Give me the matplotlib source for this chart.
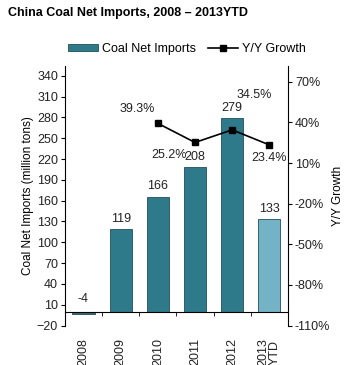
import matplotlib
matplotlib.use("Agg")
import matplotlib.pyplot as plt
from matplotlib.lines import Line2D
from matplotlib.patches import Patch

plt.rcParams.update({"font.family": "Liberation Sans", "font.size": 9})

years = ["2008", "2009", "2010", "2011", "2012", "2013\nYTD"]
imports = [-4, 119, 166, 208, 279, 133]
growth_idx = [2, 3, 4, 5]
growth = [39.3, 25.2, 34.5, 23.4]
growth_labels = ["39.3%", "25.2%", "34.5%", "23.4%"]

DARK = "#2F7A8A"
LIGHT = "#74B3C6"
colors = ["#3A6F78"] + [DARK] * 4 + [LIGHT]

fig = plt.figure(figsize=(3.49, 3.65), dpi=100)
ax = fig.add_axes([0.186, 0.108, 0.639, 0.711])
x = list(range(len(years)))
ax.bar(x, imports, width=0.6, color=colors, edgecolor="#1F4F5A", linewidth=0.6, zorder=2)
ax.set_xlim(-0.5, 5.5)
ax.set_ylim(-20, 354)
ax.set_yticks(range(-20, 341, 30))
ax.tick_params(axis="y", length=3, labelsize=9, pad=2, labelcolor="#222222")
ax.set_ylabel("Coal Net Imports (million tons)", fontsize=8.5, labelpad=2)

ax.spines["top"].set_visible(False)
ax.spines["right"].set_visible(False)
ax.spines["bottom"].set_position(("data", 0))
ax.spines["bottom"].set_zorder(3)
ax.set_xticks(x)
ax.set_xticklabels(years, rotation=90, va="top", linespacing=0.95)
ax.tick_params(axis="x", which="major", length=0, pad=19, labelsize=9, labelcolor="#222222")
ax.set_xticks([i + 0.5 for i in range(5)], minor=True)
ax.tick_params(axis="x", which="minor", length=3, direction="out")

for i, v in zip(x, imports):
    y = v + 6 if v > 0 else 10
    ax.text(i, y, str(v), ha="center", va="bottom", fontsize=9, color="#222222")

ax2 = ax.twinx()
ax2.set_ylim(-110, 81.6)
ax2.set_yticks(range(-110, 71, 30))
ax2.set_yticklabels([f"{t}%" for t in range(-110, 71, 30)])
ax2.tick_params(axis="y", length=3, labelsize=9, pad=2, labelcolor="#222222")
ax2.spines["top"].set_visible(False)
ax2.spines["left"].set_visible(False)
ax2.spines["bottom"].set_visible(False)
ax2.set_ylabel("Y/Y Growth", fontsize=8.5, labelpad=1)
ax2.plot(growth_idx, growth, color="black", linewidth=1.2, marker="s", markersize=5, zorder=4)

offsets = [(-0.55, 6, "bottom"), (-0.7, -5, "top"), (0.6, 21, "bottom"), (0.0, -5, "top")]
for i, g, lab, (dx, dy, va) in zip(growth_idx, growth, growth_labels, offsets):
    ax2.text(i + dx, g + dy, lab, ha="center", va=va, fontsize=9, color="#222222")

fig.text(0.023, 0.965, "China Coal Net Imports, 2008 \u2013 2013YTD", fontsize=9,
         fontweight="bold", ha="left", va="center")

handles = [Patch(facecolor=DARK, edgecolor="#1F4F5A", linewidth=0.6),
           Line2D([0], [0], color="black", linewidth=1.2, marker="s", markersize=4)]
fig.legend(handles, ["Coal Net Imports", "Y/Y Growth"], loc="center",
           bbox_to_anchor=(0.535, 0.866), ncol=2, frameon=False, fontsize=9,
           handlelength=2.4, handleheight=0.6, columnspacing=1.0, handletextpad=0.3)

fig.savefig("out.png", dpi=100)
